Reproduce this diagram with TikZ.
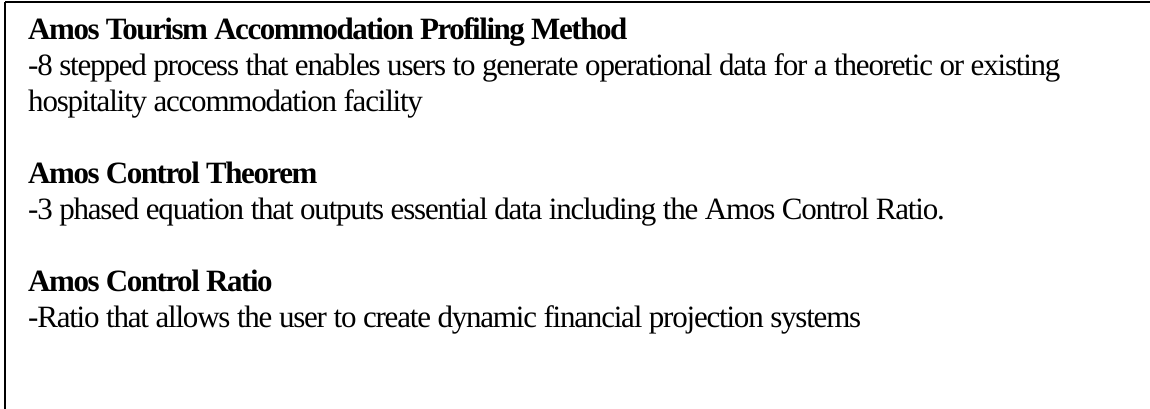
\documentclass[tikz,border=0pt]{standalone}
\usepackage{fontspec}
\setmainfont{Liberation Serif}[LetterSpace=-3.9,BoldFeatures={LetterSpace=-4.7}]
\begin{document}
\begin{tikzpicture}[x=1pt,y=-1pt,
    heading/.style={anchor=base west,inner sep=0pt,font=\fontsize{31}{36}\selectfont\bfseries},
    bodyline/.style={anchor=base west,inner sep=0pt,font=\fontsize{31}{36}\selectfont}]
    \useasboundingbox (0,0) rectangle (1150,408);
    \clip (0,0) rectangle (1150,408);
    %% Frame
    \coordinate (TL) at (5,2);
    \draw[line width=2pt] (TL) -- (1160,2);
    \draw[line width=2pt] (TL) -- (5,420);
    %% Profiling method
    \node[heading] (method) at (28,39.5) {Amos Tourism Accommodation Profiling Method};
    \node[bodyline] (methodA) at (28,75.5)
        {-8 stepped process that enables users to generate operational data for a theoretic or existing};
    \node[bodyline] (methodB) at (28,111.5) {hospitality accommodation facility};
    %% Theorem
    \node[heading] (theorem) at (28,183.5) {Amos Control Theorem};
    \node[bodyline] (theoremA) at (28,219.5)
        {-3 phased equation that outputs essential data including the Amos Control Ratio.};
    %% Ratio
    \node[heading] (ratio) at (28,291.5) {Amos Control Ratio};
    \node[bodyline] (ratioA) at (28,327.5)
        {-Ratio that allows the user to create dynamic financial projection systems};
\end{tikzpicture}
\end{document}
